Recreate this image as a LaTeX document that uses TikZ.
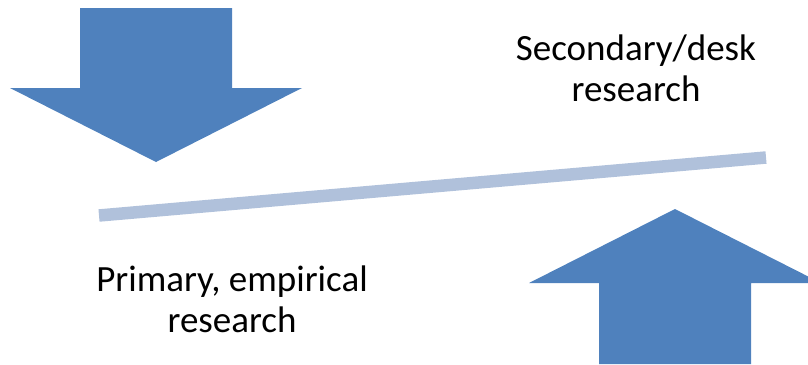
\documentclass[tikz,border=0pt]{standalone}
\usepackage{fontspec}
\setmainfont{Carlito}
\usepackage{xcolor}
\usepackage{tikz}
\usetikzlibrary{positioning, calc}

\definecolor{arrowblue}{HTML}{4F81BD}
\definecolor{barblue}{HTML}{B0C1DB}

\begin{document}
\begin{tikzpicture}[
  x=1pt, y=-1pt,
  bigarrow/.style={fill=arrowblue, draw=none},
  barline/.style={draw=barblue, line width=12.5pt},
  lbl/.style={align=center, inner sep=0pt, text=black, anchor=base,
              font=\fontsize{37}{40.5}\selectfont}
]

\useasboundingbox (0,0) rectangle (808,364);
\clip (0,0) rectangle (808,364);

%% ---- Arrow pressing down (top left) ----
\fill[bigarrow] (80,8) -- (232,8) -- (232,88) -- (302,88)
  -- (156,162) -- (10,88) -- (80,88) -- cycle;

%% ---- Arrow pushing up (bottom right) ----
\fill[bigarrow] (599,364) -- (599,283) -- (529,283) -- (675,209)
  -- (821,283) -- (751,283) -- (751,364) -- cycle;

%% ---- Tilted bar ----
\coordinate (barL) at (99,215.5);
\coordinate (barR) at (766,157.5);
\draw[barline] (barL) -- (barR);

%% ---- Labels (anchored on the baseline of the last line) ----
\node[lbl] (secondary) at (636,101) {Secondary/desk\\research};
\node[lbl] (primary)   at (232,332) {Primary, empirical\\research};

\end{tikzpicture}
\end{document}
